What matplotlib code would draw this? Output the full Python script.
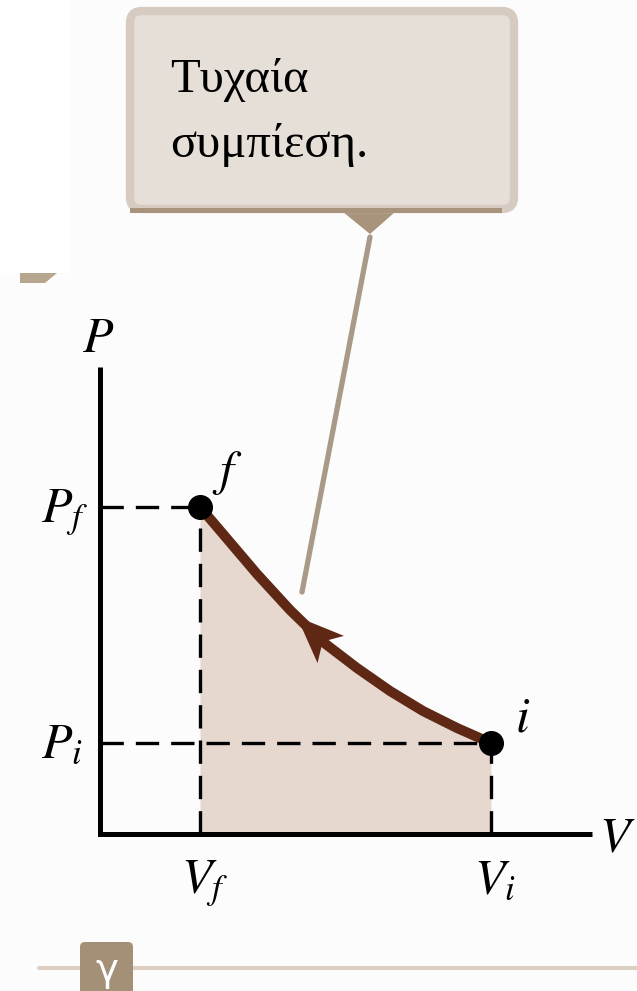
import matplotlib
matplotlib.use("Agg")
import matplotlib.pyplot as plt
import numpy as np
from matplotlib.patches import FancyBboxPatch, Polygon, Rectangle

plt.rcParams['mathtext.fontset'] = 'stix'

# --- data (V, P in arbitrary units) ---
V_f, P_f = 1.0, 3.27
V_i, P_i = 3.91, 0.91
curve_V = [1.00, 1.23, 1.57, 1.90, 2.23, 2.57, 2.90, 3.23, 3.57, 3.91]
curve_P = [3.27, 3.00, 2.60, 2.24, 1.92, 1.66, 1.43, 1.23, 1.06, 0.91]
arrow_V = 1.97
callout_text = ["Τυχαία", "συμπίεση."]
panel_label = "γ"

V_MAX, P_MAX = 4.92, 4.67

BROWN = '#5f2814'
FILL = '#e6d7cf'
BOX_FILL = '#e6dfd8'
BOX_EDGE = '#d5cbc0'
TAN = '#a8937c'

fig = plt.figure(figsize=(6.37, 9.91), dpi=100)
fig.patch.set_facecolor('#fcfcfc')
ax = fig.add_axes([0, 0, 1, 1])
ax.set_xlim(-1.0, 5.37)
ax.set_ylim(-1.57, 8.34)
ax.axis('off')

# white patch top-left
ax.add_patch(Rectangle((-1.0, 5.61), 0.70, 2.73, color='white', lw=0, zorder=0))

# shaded area under curve
ax.fill_between(curve_V, curve_P, 0, color=FILL, lw=0, zorder=1)

# dashed guides
dash_kw = dict(color='black', lw=2.4, dashes=(7, 3.6), zorder=2)
ax.plot([0, V_f], [P_f, P_f], **dash_kw)
ax.plot([0, V_i], [P_i, P_i], **dash_kw)
ax.plot([V_f, V_f], [0, P_f], **dash_kw)
ax.plot([V_i, V_i], [0, P_i], **dash_kw)

# axes
ax.plot([0, 0, V_MAX], [P_MAX, 0, 0], color='black', lw=3.6,
        solid_joinstyle='miter', solid_capstyle='butt', zorder=3)

# process curve
ax.plot(curve_V, curve_P, color=BROWN, lw=7.2, solid_capstyle='round',
        solid_joinstyle='round', zorder=4)

# arrowhead on curve, pointing towards f
tip = np.array([arrow_V, np.interp(arrow_V, curve_V, curve_P)])
k = np.searchsorted(curve_V, arrow_V)
d = np.array([curve_V[k - 1] - curve_V[k], curve_P[k - 1] - curve_P[k]])
d = d / np.hypot(*d)
n = np.array([-d[1], d[0]])
L, W = 0.47, 0.19
head = [tip, tip - L * d + W * n, tip - 0.76 * L * d, tip - L * d - W * n]
ax.add_patch(Polygon(head, closed=True, color=BROWN, lw=0, zorder=5))

# end points
ax.plot([V_f, V_i], [P_f, P_i], 'o', color='black', ms=17, zorder=6)

# labels
lab = dict(fontsize=36, color='black')
ax.text(-0.02, 4.82, r'$P$', ha='center', va='baseline', **lab)
ax.text(-0.12, 3.12, r'$P_f$', ha='right', va='baseline', **lab)
ax.text(-0.17, 0.77, r'$P_i$', ha='right', va='baseline', **lab)
ax.text(1.05, -0.59, r'$V_f$', ha='center', va='baseline', **lab)
ax.text(3.95, -0.59, r'$V_i$', ha='center', va='baseline', **lab)
ax.text(5.35, -0.18, r'$V$', ha='right', va='baseline', **lab)
ax.text(1.12, 3.49, r'$f$', ha='left', va='baseline', **lab)
ax.text(4.15, 1.02, r'$i$', ha='left', va='baseline', **lab)

# callout leader
ax.plot([2.70, 2.02], [5.97, 2.42], color='#a99a87', lw=3.8,
        solid_capstyle='round', zorder=2)
ax.add_patch(Polygon([(2.43, 6.22), (2.95, 6.22), (2.70, 6.00)], closed=True,
                     color=TAN, lw=0, zorder=7))

# callout box
ax.add_patch(FancyBboxPatch((0.30, 6.25), 3.84, 1.98,
                            boxstyle='round,pad=0,rounding_size=0.12',
                            fc=BOX_FILL, ec=BOX_EDGE, lw=6, zorder=7))
ax.add_patch(Rectangle((0.30, 6.21), 3.72, 0.05, color=TAN, lw=0, zorder=8))
ax.text(0.70, 7.42, callout_text[0], fontsize=35, family='Liberation Serif',
        ha='left', va='baseline', zorder=9)
ax.text(0.70, 6.77, callout_text[1], fontsize=35, family='Liberation Serif',
        ha='left', va='baseline', zorder=9)

# fragment of another box on the left
ax.add_patch(Polygon([(-0.80, 5.61), (-0.43, 5.61), (-0.55, 5.51), (-0.80, 5.51)],
                     closed=True, color='#b6a58f', lw=0, zorder=2))

# bottom rule with panel tag
ax.plot([-0.61, 5.37], [-1.34, -1.34], color='#dccfc2', lw=2.9,
        solid_capstyle='round', zorder=2)
ax.add_patch(FancyBboxPatch((-0.20, -1.75), 0.53, 0.67,
                            boxstyle='round,pad=0,rounding_size=0.05',
                            fc='#a48f77', ec='none', zorder=3))
ax.text(0.07, -1.17, panel_label, fontsize=28, color='white', ha='center',
        va='top', family='DejaVu Sans', zorder=4)

fig.savefig('out.png', dpi=100, facecolor=fig.get_facecolor())
